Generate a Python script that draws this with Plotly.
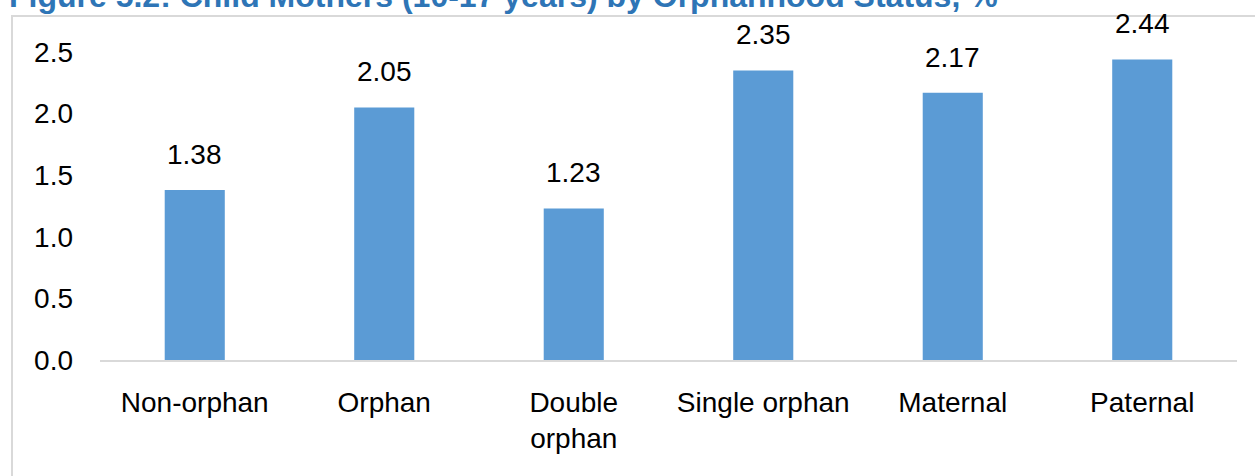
import plotly.graph_objects as go

# Child mothers (10-17 years) by orphanhood status, %
categories = ["Non-orphan", "Orphan", "Double<br>orphan", "Single orphan", "Maternal", "Paternal"]
values = [1.38, 2.05, 1.23, 2.35, 2.17, 2.44]
y_ticks = [0.0, 0.5, 1.0, 1.5, 2.0, 2.5]
title_text = "Figure 5.2: Child Mothers (10-17 years) by Orphanhood Status, %"

BAR_COLOR = "#5B9BD5"
TEXT_COLOR = "#000000"
FONT = "Liberation Sans, Arial, sans-serif"

W, H = 1255, 476
ML, MR, MT, MB = 100, 18, 30, 116
plot_w = W - ML - MR
plot_h = H - MT - MB


def px_x(px):
    return (px - ML) / plot_w


def px_y(py):
    return (H - MB - py) / plot_h


fig = go.Figure(
    go.Bar(
        x=categories,
        y=values,
        marker=dict(color=BAR_COLOR, line=dict(width=0)),
        hoverinfo="skip",
    )
)

# value labels above each bar
for cat, v in zip(categories, values):
    fig.add_annotation(
        x=cat, y=v, text=f"{v:.2f}", showarrow=False,
        yanchor="bottom", yshift=18,
        font=dict(family=FONT, size=28, color=TEXT_COLOR),
    )

# figure title (runs off the top edge)
fig.add_annotation(
    xref="paper", yref="paper", x=px_x(1000), y=px_y(-4),
    xanchor="right", yanchor="middle", showarrow=False,
    text=f"<b>{title_text}</b>",
    font=dict(family=FONT, size=32, color="#2E75B6"),
)

# light frame around the chart
fig.add_shape(
    type="rect", xref="paper", yref="paper",
    x0=px_x(12), x1=px_x(1262), y0=px_y(490), y1=px_y(16),
    line=dict(color="#D9D9D9", width=2), fillcolor="rgba(0,0,0,0)",
    layer="below",
)

fig.update_layout(
    width=W, height=H,
    margin=dict(l=ML, r=MR, t=MT, b=MB),
    paper_bgcolor="white", plot_bgcolor="white",
    bargap=0.683,
    showlegend=False,
    font=dict(family=FONT, size=28, color=TEXT_COLOR),
    xaxis=dict(
        showline=True, linecolor="#D9D9D9", linewidth=2,
        showgrid=False, zeroline=False, ticks="",
        ticklabelstandoff=16,
        tickfont=dict(family=FONT, size=28, color=TEXT_COLOR),
        fixedrange=True,
    ),
    yaxis=dict(
        range=[0, plot_h / 123.2],
        tickvals=y_ticks, ticktext=[f"{t:.1f}" for t in y_ticks],
        showline=False, showgrid=False, zeroline=False, ticks="",
        ticklabelstandoff=26,
        tickfont=dict(family=FONT, size=28, color=TEXT_COLOR),
        fixedrange=True,
    ),
)

fig.write_html("out.html")
